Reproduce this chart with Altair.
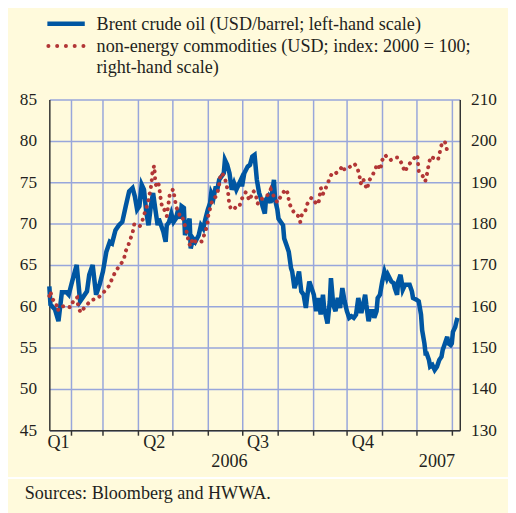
import altair as alt
import pandas as pd
import numpy as np

# ---------------- data ----------------
# day of year 2006 (1 = 1 Jan 2006; >365 = 2007)
brent_day = [13, 14, 18, 21, 24, 28, 30, 33, 37, 40, 43, 46, 48, 51, 54, 57, 60, 63, 66, 68,
             71, 74, 77, 80, 83, 86, 88, 90, 92, 94, 96, 98, 100, 102, 104, 106, 108, 109, 111, 113,
             115, 116, 118, 120, 122, 124, 126, 128, 129, 131, 132, 134, 136, 137, 139, 141, 144, 146, 148, 150,
             152, 154, 155, 157, 159, 160, 162, 164, 166, 167, 169, 171, 173, 175, 177, 179, 181, 182, 184, 187,
             189, 191, 193, 195, 197, 198, 200, 202, 203, 205, 207, 208, 210, 211, 213, 214, 216, 218, 219, 221,
             223, 225, 226, 228, 230, 232, 234, 236, 238, 239, 241, 243, 245, 247, 249, 251, 253, 254, 257, 259,
             260, 262, 264, 266, 268, 270, 272, 274, 276, 278, 280, 282, 284, 286, 287, 290, 291, 293, 295, 297,
             298, 300, 301, 303, 305, 307, 309, 310, 313, 315, 316, 318, 319, 321, 322, 323, 325, 326, 329, 331,
             332, 335, 337, 339, 340, 342, 343, 344, 346, 347, 349, 351, 353, 355, 357, 358, 360, 362, 363, 365,
             366, 367, 369, 370, 371]
brent_usd = [62.4, 60.2, 59.6, 58.2, 61.7, 61.7, 61.4, 63.0, 65.0, 60.6, 61.2, 61.8, 63.8, 65.0, 61.4, 62.6, 64.2, 66.6, 67.8, 67.6,
             69.2, 69.8, 70.2, 72.1, 73.9, 74.3, 73.3, 71.7, 72.1, 74.7, 74.1, 71.4, 69.8, 72.1, 73.7, 71.7, 69.8, 70.6, 69.8, 69.0,
             67.8, 69.8, 70.2, 71.2, 70.2, 70.6, 71.7, 70.6, 72.1, 71.9, 68.6, 69.8, 70.6, 67.0, 68.2, 67.8, 68.6, 69.8, 69.4, 70.6,
             71.7, 72.5, 73.7, 73.1, 74.5, 73.9, 75.3, 75.7, 76.1, 77.7, 77.1, 76.1, 74.1, 74.9, 74.1, 74.7, 75.3, 74.5, 76.1, 76.9,
             77.1, 78.1, 78.3, 75.3, 73.7, 73.3, 72.1, 71.2, 72.9, 73.3, 72.5, 73.3, 75.3, 72.9, 71.7, 70.6, 70.2, 69.8, 68.2, 67.4,
             66.6, 64.6, 64.2, 62.2, 63.0, 64.2, 61.8, 61.4, 59.8, 61.0, 63.0, 62.2, 61.4, 59.4, 61.0, 59.0, 61.4, 59.8, 57.9, 60.6,
             63.4, 60.2, 59.4, 61.0, 59.8, 62.2, 60.6, 59.4, 58.6, 58.8, 58.6, 59.0, 61.0, 59.4, 59.4, 61.4, 60.2, 58.2, 59.4, 59.4,
             58.6, 59.4, 61.0, 61.4, 63.0, 64.2, 63.4, 63.8, 63.0, 62.8, 62.2, 61.4, 63.0, 63.8, 63.0, 62.0, 62.6, 62.6, 62.6, 61.8,
             61.0, 60.8, 60.6, 59.0, 57.1, 55.5, 54.3, 54.3, 53.5, 52.7, 52.9, 52.3, 52.7, 53.5, 53.9, 54.7, 55.5, 56.3, 55.5, 55.3,
             55.5, 56.9, 57.5, 58.1, 58.6]

nonen_day = [13.0, 13.9, 15.8, 18.8, 20.5, 21.6, 27.4, 31.7, 34.6, 37.4, 38.3, 40.4, 43.2, 46.4, 49.9, 52.7, 56.4, 60.7, 65.0, 68.0,
             70.8, 74.5, 78.3, 79.7, 81.8, 83.8, 86.1, 87.5, 89.5, 92.4, 94.1, 96.1, 97.6, 99.0, 100.4, 101.9, 102.8, 103.4, 104.9, 105.6,
             106.0, 107.3, 108.8, 109.9, 110.8, 112.2, 113.7, 116.0, 118.5, 121.5, 122.9, 124.3, 126.7, 127.5, 129.8, 132.4, 134.3, 135.1, 137.3, 138.4,
             142.2, 145.0, 147.0, 149.4, 151.7, 152.2, 153.9, 155.7, 159.5, 160.8, 162.3, 163.2, 164.3, 166.6, 168.3, 169.8, 170.5, 171.8, 174.6, 176.7,
             179.6, 181.9, 185.3, 188.6, 191.9, 193.8, 195.7, 197.7, 201.4, 205.2, 207.2, 210.2, 213.0, 216.7, 220.1, 222.5, 223.1, 225.9, 228.8, 231.8,
             233.1, 234.6, 237.4, 238.9, 243.0, 247.3, 249.0, 251.2, 252.9, 256.1, 259.0, 260.9, 263.3, 267.2, 270.4, 271.9, 277.1, 280.5, 283.1, 285.0,
             286.1, 288.3, 289.6, 292.0, 293.0, 296.3, 298.7, 300.6, 303.4, 304.7, 307.7, 309.9, 312.5, 316.8, 318.9, 322.4, 324.7, 327.6, 331.9, 335.8,
             336.4, 337.1, 339.6, 341.4, 342.7, 344.4, 345.7, 347.4, 350.4, 353.9, 355.6, 357.3, 359.9, 361.7, 366.8]
nonen_idx = [162.5, 163.6, 161.7, 160.9, 158.9, 159.8, 160.1, 159.7, 161.7, 162.1, 159.9, 158.5, 159.5, 160.5, 161.5, 161.7, 162.2, 163.4, 164.8, 166.6,
             168.3, 169.8, 171.2, 173.2, 174.4, 176.0, 177.9, 179.9, 179.5, 179.4, 180.2, 182.1, 183.5, 184.5, 186.4, 188.4, 190.4, 192.4, 194.0, 192.0,
             189.8, 188.8, 189.6, 187.7, 185.7, 183.6, 183.5, 181.8, 186.9, 188.3, 186.3, 183.9, 182.9, 181.4, 181.4, 179.1, 177.1, 175.2, 174.6, 176.4,
             175.4, 175.6, 175.7, 177.8, 179.7, 181.7, 183.6, 185.5, 186.7, 187.9, 190.0, 192.0, 192.2, 191.4, 189.5, 187.5, 185.5, 183.9, 183.3, 184.1,
             184.1, 186.0, 187.6, 185.6, 187.9, 187.3, 184.8, 185.9, 186.1, 187.1, 188.3, 186.4, 185.1, 186.9, 188.3, 187.2, 185.1, 183.5, 182.1, 181.8,
             180.4, 182.3, 182.9, 184.6, 186.3, 184.8, 184.7, 188.6, 187.1, 189.0, 191.0, 192.2, 192.0, 192.8, 194.0, 193.0, 193.8, 194.5, 193.6, 191.6,
             189.7, 190.9, 189.5, 188.3, 190.2, 191.6, 193.0, 194.4, 193.0, 195.2, 196.6, 195.6, 195.4, 196.0, 196.0, 194.4, 192.5, 194.0, 195.5, 196.6,
             194.6, 192.6, 192.0, 191.0, 190.2, 192.2, 194.2, 196.2, 195.8, 195.4, 197.4, 199.4, 199.9, 197.9, 198.3]

quarter_labels = ["Q1", "Q2", "Q3", "Q4"]
quarter_day = [21, 105, 196, 288]
year_labels = ["2006", "2007"]
year_day = [171, 353]

legend_texts = ["Brent crude oil (USD/barrel; left-hand scale)",
                "non-energy commodities (USD; index: 2000 = 100;",
                "right-hand scale)"]
source_text = "Sources: Bloomberg and HWWA."

# ---------------- helpers ----------------
BASE = pd.Timestamp("2006-01-01")


def to_date(days):
    return BASE + pd.to_timedelta(np.asarray(days, dtype=float) - 1, unit="D")


brent = pd.DataFrame({"date": to_date(brent_day), "value": brent_usd})
nonen = pd.DataFrame({"date": to_date(nonen_day), "value": nonen_idx})
quarters = pd.DataFrame({"date": to_date(quarter_day), "label": quarter_labels})
years = pd.DataFrame({"date": to_date(year_day), "label": year_labels})
one = pd.DataFrame({"k": [0]})

CREAM = "#FFFADC"
GRID = "#98A6DB"
DARK = "#231F20"
BLUE = "#0056A2"
RED = "#B23636"
FONT = "'Liberation Serif', 'Times New Roman', Times, 'DejaVu Serif', serif"
FS = 18.4

month_ticks = [alt.DateTime(year=2006, month=m, date=1) for m in range(2, 13)] + \
              [alt.DateTime(year=2007, month=1, date=1)]

x_enc = alt.X(
    "date:T",
    scale=alt.Scale(domain=[alt.DateTime(year=2006, month=1, date=13),
                            alt.DateTime(year=2007, month=1, date=8)]),
    axis=alt.Axis(values=month_ticks, labels=False, ticks=True, tickSize=5,
                  tickColor="#333333", tickWidth=1.5, domain=True,
                  domainColor="#333333", domainWidth=1.5, grid=True,
                  gridColor=GRID, gridWidth=1.5, title=None),
)

blue_line = alt.Chart(brent).mark_line(color=BLUE, strokeWidth=4.6).encode(
    x=x_enc,
    y=alt.Y("value:Q",
            scale=alt.Scale(domain=[45, 85], nice=False, zero=False),
            axis=alt.Axis(orient="left", values=list(range(45, 90, 5)), grid=True,
                          gridColor=GRID, gridWidth=1.5, ticks=False,
                          domainColor="#333333", domainWidth=1.5,
                          labelFont=FONT, labelFontSize=17.5, labelColor=DARK,
                          labelPadding=13, title=None)),
)

red_line = alt.Chart(nonen).mark_line(color=RED, strokeWidth=4.0, strokeDash=[0.1, 6.8],
                                      strokeCap="round").encode(
    x=x_enc,
    y=alt.Y("value:Q",
            scale=alt.Scale(domain=[130, 210], nice=False, zero=False),
            axis=alt.Axis(orient="right", values=list(range(130, 220, 10)), grid=False,
                          ticks=False, domainColor="#333333", domainWidth=1.5,
                          labelFont=FONT, labelFontSize=17.5, labelColor=DARK,
                          labelPadding=11, title=None)),
)

q_text = alt.Chart(quarters).mark_text(font=FONT, fontSize=FS, color=DARK,
                                       baseline="alphabetic", align="center").encode(
    x=x_enc, y=alt.value(353.5), text="label:N")

y_text = alt.Chart(years).mark_text(font=FONT, fontSize=FS, color=DARK,
                                    baseline="alphabetic", align="center").encode(
    x=x_enc, y=alt.value(373), text="label:N")

# legend
leg_blue = alt.Chart(one).mark_rule(color=BLUE, strokeWidth=4.6).encode(
    x=alt.value(-2), x2=alt.value(36), y=alt.value(-77))
leg_red = alt.Chart(one).mark_rule(color=RED, strokeWidth=4.0, strokeDash=[0.1, 8.8],
                                   strokeCap="round").encode(
    x=alt.value(-1), x2=alt.value(37), y=alt.value(-54.5))
leg_t = [alt.Chart(one).mark_text(font=FONT, fontSize=FS, color=DARK, align="left",
                                  baseline="alphabetic").encode(
    x=alt.value(48), y=alt.value(yy), text=alt.value(t))
    for t, yy in zip(legend_texts, [-70.5, -48.5, -27])]

sep = alt.Chart(one).mark_rule(color="white", strokeWidth=2).encode(
    x=alt.value(-42), x2=alt.value(466), y=alt.value(384.5))
src = alt.Chart(one).mark_text(font=FONT, fontSize=FS, color=DARK, align="left",
                               baseline="alphabetic").encode(
    x=alt.value(-25), y=alt.value(406), text=alt.value(source_text))

chart = alt.layer(
    blue_line, red_line, q_text, y_text, leg_blue, leg_red, *leg_t, sep, src
).resolve_scale(y="independent").properties(
    width=417, height=336,
    autosize=alt.AutoSizeParams(type="none"),
    padding={"left": 42, "top": 89, "right": 49, "bottom": 80},
).configure(background=CREAM).configure_view(stroke=None)

chart.save("out.html", embed_options={"renderer": "svg", "actions": False})
